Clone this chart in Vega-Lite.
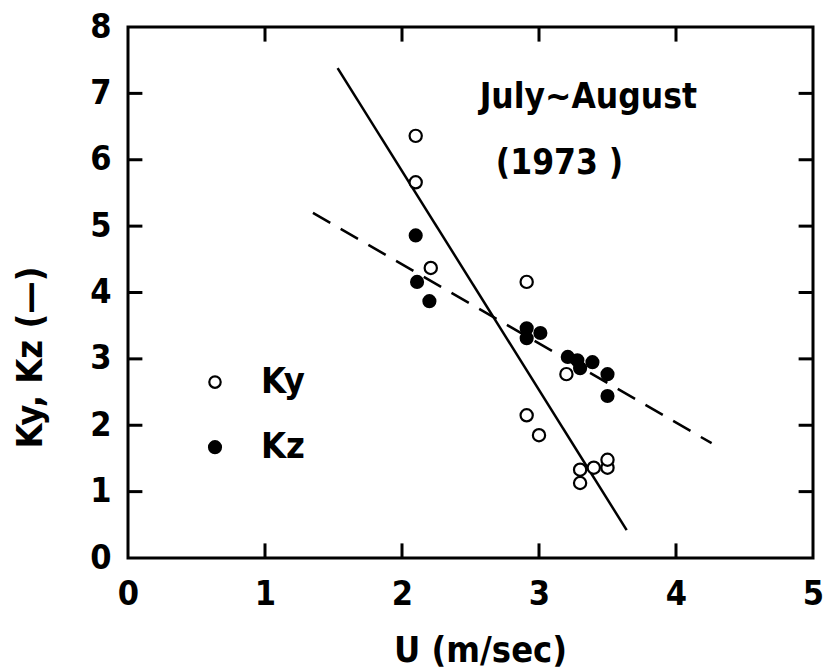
{
  "$schema": "https://vega.github.io/schema/vega-lite/v6.json",
  "width": 685,
  "height": 531,
  "autosize": {"type": "none"},
  "padding": {"left": 128, "top": 27, "right": 11, "bottom": 113},
  "background": "white",
  "config": {
    "view": {"stroke": "black", "strokeWidth": 3},
    "font": "DejaVu Sans Condensed",
    "axis": {"grid": false, "domain": false, "ticks": false, "labelFlush": false, "format": "d",
             "labelFont": "DejaVu Sans Condensed", "labelFontSize": 34, "labelFontWeight": "bold", "labelColor": "black",
             "titleFont": "DejaVu Sans Condensed", "titleFontSize": 36, "titleFontWeight": "bold", "titleColor": "black"}
  },
  "datasets": {
    "ky": [
      {"u": 2.1, "k": 6.36}, {"u": 2.1, "k": 5.66}, {"u": 2.21, "k": 4.37}, {"u": 2.91, "k": 4.16},
      {"u": 3.2, "k": 2.77}, {"u": 2.91, "k": 2.15}, {"u": 3.0, "k": 1.85}, {"u": 3.3, "k": 1.33},
      {"u": 3.3, "k": 1.13}, {"u": 3.4, "k": 1.36}, {"u": 3.5, "k": 1.36}, {"u": 3.5, "k": 1.48}
    ],
    "kz": [
      {"u": 2.1, "k": 4.86}, {"u": 2.11, "k": 4.16}, {"u": 2.2, "k": 3.87}, {"u": 2.91, "k": 3.46},
      {"u": 2.91, "k": 3.31}, {"u": 3.01, "k": 3.39}, {"u": 3.21, "k": 3.03}, {"u": 3.28, "k": 2.98},
      {"u": 3.3, "k": 2.86}, {"u": 3.39, "k": 2.95}, {"u": 3.5, "k": 2.77}, {"u": 3.5, "k": 2.44}
    ],
    "solid": [{"u": 1.53, "k": 7.38}, {"u": 3.64, "k": 0.42}],
    "dashed": [{"u": 1.35, "k": 5.2}, {"u": 4.26, "k": 1.73}],
    "xticks": [{"u": 1, "b0": 0, "b1": 0.22, "t0": 8, "t1": 7.78}, {"u": 2, "b0": 0, "b1": 0.22, "t0": 8, "t1": 7.78}, {"u": 3, "b0": 0, "b1": 0.22, "t0": 8, "t1": 7.78}, {"u": 4, "b0": 0, "b1": 0.22, "t0": 8, "t1": 7.78}],
    "yticks": [
      {"k": 1, "l0": 0, "l1": 0.105, "r0": 5, "r1": 4.895}, {"k": 2, "l0": 0, "l1": 0.105, "r0": 5, "r1": 4.895},
      {"k": 3, "l0": 0, "l1": 0.105, "r0": 5, "r1": 4.895}, {"k": 4, "l0": 0, "l1": 0.105, "r0": 5, "r1": 4.895},
      {"k": 5, "l0": 0, "l1": 0.105, "r0": 5, "r1": 4.895}, {"k": 6, "l0": 0, "l1": 0.105, "r0": 5, "r1": 4.895},
      {"k": 7, "l0": 0, "l1": 0.105, "r0": 5, "r1": 4.895}
    ],
    "legendOpen": [{"u": 0.635, "k": 2.65, "label": "Ky"}],
    "legendFilled": [{"u": 0.635, "k": 1.67, "label": "Kz"}],
    "notes": [{"u": 3.36, "k": 6.94, "label": "July~August"}, {"u": 3.15, "k": 5.95, "label": "(1973 )"}]
  },
  "layer": [
    {
      "data": {"name": "solid"},
      "mark": {"type": "line", "color": "black", "strokeWidth": 2.5},
      "encoding": {
        "x": {"field": "u", "type": "quantitative", "scale": {"domain": [0, 5], "nice": false},
              "axis": {"title": "U  (m/sec)", "values": [0, 1, 2, 3, 4, 5], "labelPadding": 19,
                       "titleX": 352, "titleY": 92, "titleBaseline": "middle", "titleAlign": "center"}},
        "y": {"field": "k", "type": "quantitative", "scale": {"domain": [0, 8], "nice": false},
              "axis": {"title": "Ky, Kz  (—)", "values": [0, 1, 2, 3, 4, 5, 6, 7, 8], "labelPadding": 17,
                       "titleX": -98, "titleY": 330, "titleAngle": -90, "titleBaseline": "middle", "titleAlign": "center"}}
      }
    },
    {
      "data": {"name": "dashed"},
      "mark": {"type": "line", "color": "black", "strokeWidth": 2.5, "strokeDash": [20, 12]},
      "encoding": {
        "x": {"field": "u", "type": "quantitative"},
        "y": {"field": "k", "type": "quantitative"}
      }
    },
    {
      "data": {"name": "xticks"},
      "layer": [
        {"mark": {"type": "rule", "color": "black", "strokeWidth": 3},
         "encoding": {"x": {"field": "u", "type": "quantitative"}, "y": {"field": "b0", "type": "quantitative"}, "y2": {"field": "b1"}}},
        {"mark": {"type": "rule", "color": "black", "strokeWidth": 3},
         "encoding": {"x": {"field": "u", "type": "quantitative"}, "y": {"field": "t0", "type": "quantitative"}, "y2": {"field": "t1"}}}
      ]
    },
    {
      "data": {"name": "yticks"},
      "layer": [
        {"mark": {"type": "rule", "color": "black", "strokeWidth": 3},
         "encoding": {"y": {"field": "k", "type": "quantitative"}, "x": {"field": "l0", "type": "quantitative"}, "x2": {"field": "l1"}}},
        {"mark": {"type": "rule", "color": "black", "strokeWidth": 3},
         "encoding": {"y": {"field": "k", "type": "quantitative"}, "x": {"field": "r0", "type": "quantitative"}, "x2": {"field": "r1"}}}
      ]
    },
    {
      "data": {"name": "kz"},
      "mark": {"type": "point", "shape": "circle", "filled": true, "color": "black", "size": 200, "opacity": 1},
      "encoding": {
        "x": {"field": "u", "type": "quantitative"},
        "y": {"field": "k", "type": "quantitative"}
      }
    },
    {
      "data": {"name": "ky"},
      "mark": {"type": "point", "shape": "circle", "filled": false, "stroke": "black", "fill": "white", "fillOpacity": 1, "strokeWidth": 2.2, "size": 150, "opacity": 1},
      "encoding": {
        "x": {"field": "u", "type": "quantitative"},
        "y": {"field": "k", "type": "quantitative"}
      }
    },
    {
      "data": {"name": "legendOpen"},
      "layer": [
        {"mark": {"type": "point", "shape": "circle", "filled": false, "stroke": "black", "strokeWidth": 2.2, "size": 130, "opacity": 1},
         "encoding": {"x": {"field": "u", "type": "quantitative"}, "y": {"field": "k", "type": "quantitative"}}},
        {"mark": {"type": "text", "align": "left", "baseline": "middle", "dx": 46, "fontSize": 36, "fontWeight": "bold", "font": "DejaVu Sans Condensed", "color": "black"},
         "encoding": {"x": {"field": "u", "type": "quantitative"}, "y": {"field": "k", "type": "quantitative"}, "text": {"field": "label"}}}
      ]
    },
    {
      "data": {"name": "legendFilled"},
      "layer": [
        {"mark": {"type": "point", "shape": "circle", "filled": true, "color": "black", "size": 200, "opacity": 1},
         "encoding": {"x": {"field": "u", "type": "quantitative"}, "y": {"field": "k", "type": "quantitative"}}},
        {"mark": {"type": "text", "align": "left", "baseline": "middle", "dx": 46, "fontSize": 36, "fontWeight": "bold", "font": "DejaVu Sans Condensed", "color": "black"},
         "encoding": {"x": {"field": "u", "type": "quantitative"}, "y": {"field": "k", "type": "quantitative"}, "text": {"field": "label"}}}
      ]
    },
    {
      "data": {"name": "notes"},
      "mark": {"type": "text", "align": "center", "baseline": "middle", "fontSize": 35, "fontWeight": "bold", "font": "DejaVu Sans Condensed", "color": "black"},
      "encoding": {
        "x": {"field": "u", "type": "quantitative"},
        "y": {"field": "k", "type": "quantitative"},
        "text": {"field": "label"}
      }
    }
  ]
}
